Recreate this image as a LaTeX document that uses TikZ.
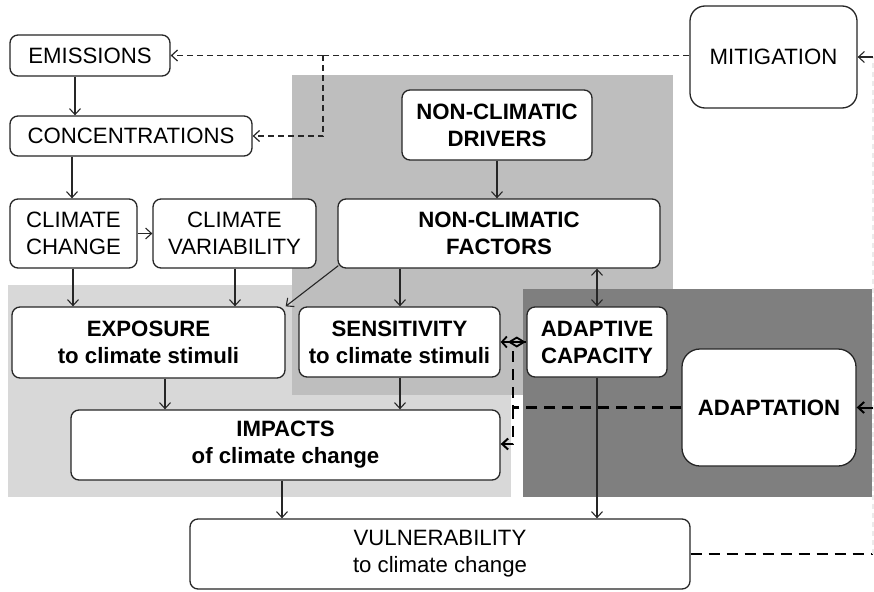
\documentclass[tikz,border=0pt]{standalone}
\usepackage{fontspec}
\setmainfont{Liberation Sans}
\usetikzlibrary{arrows.meta}
\definecolor{lightbg}{HTML}{D8D8D8}
\definecolor{midbg}{HTML}{BEBEBE}
\definecolor{darkbg}{HTML}{7F7F7F}
\definecolor{edge}{HTML}{262626}
\begin{document}
\begin{tikzpicture}[x=1pt,y=-1pt,
  box/.style={draw=edge, line width=1.3pt, rounded corners=8pt, fill=white, align=center,
    font=\fontsize{22.2}{27}\selectfont, inner sep=0pt},
  bbox/.style={box, font=\bfseries\fontsize{22.2}{27}\selectfont},
  arr/.style={draw=edge, line width=1.1pt, -{Straight Barb[length=6pt,width=11pt]}},
  thindash/.style={draw=edge, line width=1.2pt, dash pattern=on 6pt off 4pt},
  thickdash/.style={draw=black, line width=2.5pt, dash pattern=on 11pt off 7pt},
  faintdash/.style={draw=black!8, line width=1.2pt, dash pattern=on 5pt off 4pt}]
\useasboundingbox (0,0) rectangle (874,591);
% backgrounds
\fill[lightbg] (8,285) rectangle (511,497);
\fill[midbg] (292,75) rectangle (673,290);
\fill[midbg] (292,75) rectangle (523,395);
\fill[darkbg] (523,289) rectangle (872,497);
% nodes
\node[box, minimum width=160pt, minimum height=41pt] (emis) at (90,55.5) {EMISSIONS};
\node[box, minimum width=242pt, minimum height=40pt] (conc) at (131,136) {CONCENTRATIONS};
\node[box, minimum width=127pt, minimum height=69pt] (cc) at (73.5,233.5) {CLIMATE\\CHANGE};
\node[box, minimum width=163pt, minimum height=69pt] (cv) at (234.5,233.5) {CLIMATE\\VARIABILITY};
\node[bbox, minimum width=190pt, minimum height=70pt] (ncd) at (497,125) {NON-CLIMATIC\\DRIVERS};
\node[bbox, minimum width=322pt, minimum height=69pt] (ncf) at (499,233.5) {NON-CLIMATIC\\FACTORS};
\node[box, rounded corners=15pt, minimum width=167pt, minimum height=102pt] (mit) at (773.5,57) {MITIGATION};
\node[bbox, minimum width=273pt, minimum height=71pt] (exp) at (148.5,342.5) {EXPOSURE\\to climate stimuli};
\node[bbox, minimum width=201pt, minimum height=70pt] (sens) at (399.5,342) {SENSITIVITY\\to climate stimuli};
\node[bbox, minimum width=140pt, minimum height=70pt] (adcap) at (597,342) {ADAPTIVE\\CAPACITY};
\node[bbox, rounded corners=18pt, minimum width=174pt, minimum height=117pt] (adapt) at (769,407.5) {ADAPTATION};
\node[bbox, minimum width=429pt, minimum height=70pt] (imp) at (285.5,445) {IMPACTS\\of climate change};
\node[box, minimum width=500pt, minimum height=70pt] (vuln) at (440,554) {VULNERABILITY\\to climate change};
% helper coordinates
\coordinate (branch) at (323,55.5);
\coordinate (bend) at (323,136);
\coordinate (dtop) at (513,351);
\coordinate (djoin) at (513,407.5);
\coordinate (dbot) at (513,444);
\coordinate (rb) at (873,554);
\coordinate (rt) at (873,57);
\coordinate (ra) at (873,407.5);
% solid arrows
\draw[arr] (emis.south -| 75,0) -- (conc.north -| 75,0);
\draw[arr] (conc.south -| 72,0) -- (cc.north -| 72,0);
\draw[arr] (cc.east) -- (cv.west);
\draw[arr] (cc.south -| 73,0) -- (exp.north -| 73,0);
\draw[arr] (cv.south -| 235,0) -- (exp.north -| 235,0);
\draw[arr] (ncf.south west) ++(1,-3) -- (exp.north east);
\draw[arr] (ncd.south) -- (ncf.north -| ncd.south);
\draw[arr] (ncf.south -| 400,0) -- (sens.north -| 400,0);
\draw[draw=edge, line width=1.1pt, {Straight Barb[length=6pt,width=11pt]}-{Straight Barb[length=6pt,width=11pt]}] (ncf.south -| adcap.north) -- (adcap.north);
\draw[arr] (exp.south -| 165,0) -- (imp.north -| 165,0);
\draw[arr] (sens.south -| 400,0) -- (imp.north -| 400,0);
\draw[arr] (imp.south -| 282,0) -- (vuln.north -| 282,0);
\draw[arr] (adcap.south) -- (vuln.north -| adcap.south);
% mitigation dashed
\draw[thindash] (mit.west |- emis.east) -- (branch);
\draw[thindash, -{Straight Barb[length=6pt,width=11pt]}] (branch) -- (emis.east);
\draw[thindash, -{Straight Barb[length=6pt,width=11pt]}] (branch) -- (bend) -- (conc.east);
% adaptation dashed
\draw[thickdash] (adapt.west) -- (djoin);
\draw[thickdash] (dtop) -- (djoin);
\draw[thickdash, -{Straight Barb[length=6pt,width=11pt,line width=2pt]}] (djoin) -- (dbot) -- (imp.east |- dbot);
\draw[draw=black, line width=1.8pt, {Straight Barb[length=5pt,width=11pt] Diamond[open,length=18pt,width=11pt]}-] (sens.east) -- (adcap.west);
% feedback from vulnerability
\draw[thickdash] (vuln.east) -- (rb);
\draw[faintdash] (rb) -- (rt);
\draw[draw=edge, line width=1.1pt, -{Straight Barb[length=6pt,width=11pt]}] (rt) -- (mit.east |- rt);
\draw[draw=black, line width=2pt, -{Straight Barb[length=6pt,width=11pt]}] (ra) -- (adapt.east);
\end{tikzpicture}
\end{document}
